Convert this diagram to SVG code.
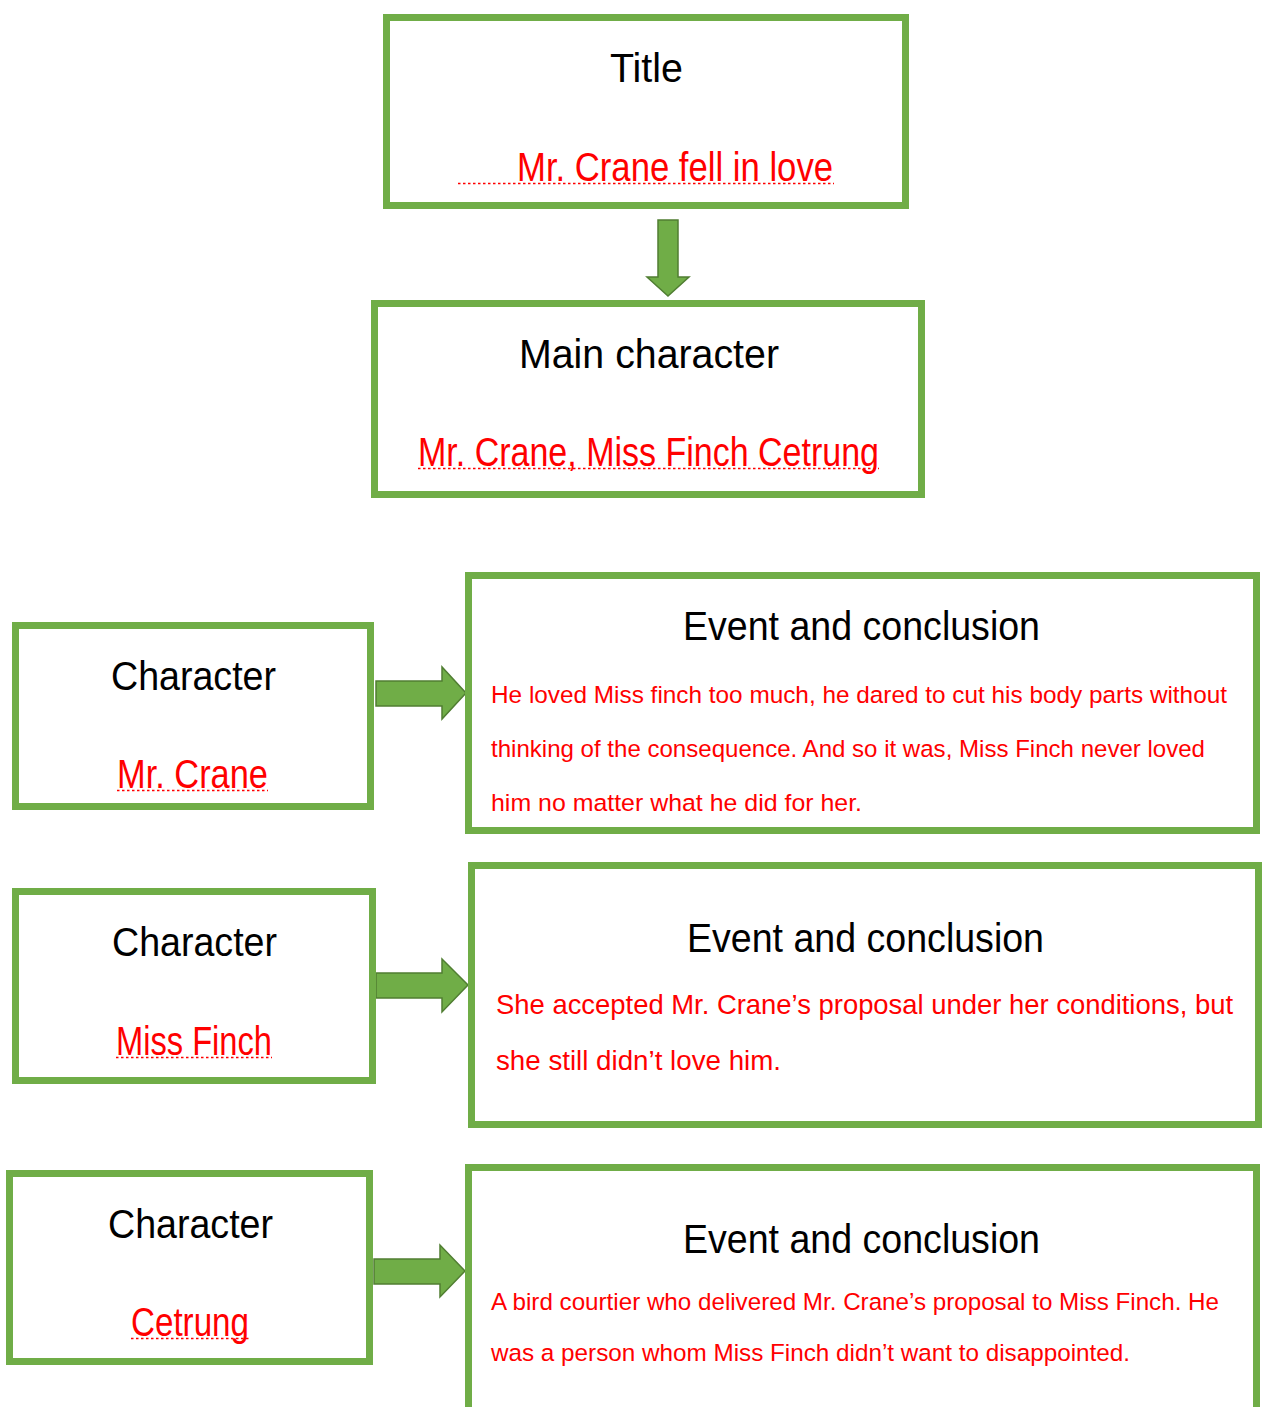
<svg xmlns="http://www.w3.org/2000/svg" width="1262" height="1407" viewBox="0 0 1262 1407">
<style>
.box{fill:#ffffff;stroke:#70ad47;stroke-width:7}
.arrow{fill:#70ad47;stroke:#507e32;stroke-width:1.5;stroke-linejoin:miter}
.h{font-family:"Liberation Sans","DejaVu Sans",sans-serif;font-size:41px;fill:#000000}
.r{font-family:"Liberation Sans","DejaVu Sans",sans-serif;font-size:40px;fill:#ff0000}
.b{font-family:"Liberation Sans","DejaVu Sans",sans-serif;font-size:24.5px;fill:#ff0000}
.b2{font-family:"Liberation Sans","DejaVu Sans",sans-serif;font-size:27.5px;fill:#ff0000}
.u{stroke:#ff0000;stroke-width:1.6;stroke-dasharray:2.5 2.5;fill:none}
</style>
<rect x="0" y="0" width="1262" height="1407" fill="#ffffff"/>
<g id="connectors">
<path class="arrow" d="M658,220 H678 V277 H689 L668,296 L647,277 H658 Z"/>
<path class="arrow" d="M376,681 H442 V667 L466,693 L442,719 V706 H376 Z"/>
<path class="arrow" d="M376,973 H442 V959 L468,985 L442,1012 V998 H376 Z"/>
<path class="arrow" d="M374,1259 H440 V1245 L465,1271 L440,1297 V1284 H374 Z"/>
</g>
<g id="title">
<rect class="box" x="386.5" y="17.5" width="519" height="188"/>
<text class="h" x="610" y="82" textLength="73" lengthAdjust="spacingAndGlyphs">Title</text>
<text class="r" x="517" y="181" textLength="316" lengthAdjust="spacingAndGlyphs">Mr. Crane fell in love</text>
<line class="u" x1="458" y1="183.5" x2="834" y2="183.5"/>
</g>
<g id="main-character">
<rect class="box" x="374.5" y="303.5" width="547" height="191"/>
<text class="h" x="519" y="368" textLength="260" lengthAdjust="spacingAndGlyphs">Main character</text>
<text class="r" x="418" y="466" textLength="461" lengthAdjust="spacingAndGlyphs">Mr. Crane, Miss Finch Cetrung</text>
<line class="u" x1="418" y1="468.5" x2="879" y2="468.5"/>
</g>
<g id="character-1">
<rect class="box" x="15.5" y="625.5" width="355" height="181"/>
<text class="h" x="111" y="690" textLength="165" lengthAdjust="spacingAndGlyphs">Character</text>
<text class="r" x="117" y="788" textLength="151" lengthAdjust="spacingAndGlyphs">Mr. Crane</text>
<line class="u" x1="117" y1="790.5" x2="268" y2="790.5"/>
</g>
<g id="event-1">
<rect class="box" x="468.5" y="575.5" width="788" height="255"/>
<text class="h" x="683" y="640" textLength="357" lengthAdjust="spacingAndGlyphs">Event and conclusion</text>
<text class="b" x="491" y="703" textLength="736" lengthAdjust="spacingAndGlyphs">He loved Miss finch too much, he dared to cut his body parts without</text>
<text class="b" x="491" y="757" textLength="714" lengthAdjust="spacingAndGlyphs">thinking of the consequence. And so it was, Miss Finch never loved</text>
<text class="b" x="491" y="811" textLength="371" lengthAdjust="spacingAndGlyphs">him no matter what he did for her.</text>
</g>
<g id="character-2">
<rect class="box" x="15.5" y="891.5" width="357" height="189"/>
<text class="h" x="112" y="956" textLength="165" lengthAdjust="spacingAndGlyphs">Character</text>
<text class="r" x="116" y="1055" textLength="156" lengthAdjust="spacingAndGlyphs">Miss Finch</text>
<line class="u" x1="116" y1="1057.5" x2="272" y2="1057.5"/>
</g>
<g id="event-2">
<rect class="box" x="471.5" y="865.5" width="787" height="259"/>
<text class="h" x="687" y="952" textLength="357" lengthAdjust="spacingAndGlyphs">Event and conclusion</text>
<text class="b2" x="496" y="1014" textLength="737" lengthAdjust="spacingAndGlyphs">She accepted Mr. Crane’s proposal under her conditions, but</text>
<text class="b2" x="496" y="1070" textLength="285" lengthAdjust="spacingAndGlyphs">she still didn’t love him.</text>
</g>
<g id="character-3">
<rect class="box" x="9.5" y="1173.5" width="360" height="188"/>
<text class="h" x="108" y="1238" textLength="165" lengthAdjust="spacingAndGlyphs">Character</text>
<text class="r" x="131" y="1336" textLength="118" lengthAdjust="spacingAndGlyphs">Cetrung</text>
<line class="u" x1="131" y1="1338.5" x2="249" y2="1338.5"/>
</g>
<g id="event-3">
<rect class="box" x="468.5" y="1167.5" width="788" height="300"/>
<text class="h" x="683" y="1253" textLength="357" lengthAdjust="spacingAndGlyphs">Event and conclusion</text>
<text class="b" x="491" y="1310" textLength="728" lengthAdjust="spacingAndGlyphs">A bird courtier who delivered Mr. Crane’s proposal to Miss Finch. He</text>
<text class="b" x="491" y="1361" textLength="639" lengthAdjust="spacingAndGlyphs">was a person whom Miss Finch didn’t want to disappointed.</text>
</g>
</svg>
